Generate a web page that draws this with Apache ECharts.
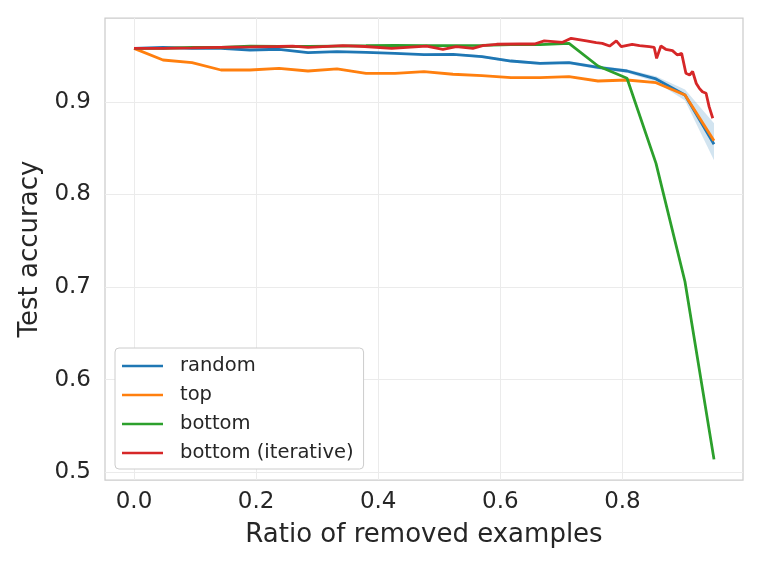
<!DOCTYPE html>
<html>
<head>
<meta charset="utf-8">
<script src="https://cdn.jsdelivr.net/npm/echarts@6/dist/echarts.min.js"></script>
<style>html,body{margin:0;padding:0;background:#fff}#c{width:761px;height:571px}</style>
</head>
<body>
<div id="c"></div>
<script>
// ---- data ----
const ratios = [0, 0.0475, 0.095, 0.1425, 0.19, 0.2375, 0.285, 0.3325, 0.38, 0.4275, 0.475,
  0.5225, 0.57, 0.6175, 0.665, 0.7125, 0.76, 0.8075, 0.855, 0.9025, 0.95];
const randomMean = [0.958, 0.9591, 0.958, 0.958, 0.9562, 0.957, 0.9533, 0.9544, 0.9537, 0.9526, 0.9512,
  0.9515, 0.949, 0.9443, 0.9418, 0.9425, 0.9375, 0.9335, 0.9249, 0.9076, 0.8543];
const randomLow = [0.958, 0.9583, 0.9572, 0.9572, 0.9554, 0.9562, 0.9525, 0.9536, 0.9529, 0.9518, 0.9504,
  0.9505, 0.9475, 0.9428, 0.9403, 0.941, 0.9355, 0.9315, 0.9215, 0.9016, 0.837];
const randomHigh = [0.958, 0.9599, 0.9588, 0.9588, 0.957, 0.9578, 0.9541, 0.9552, 0.9545, 0.9534, 0.952,
  0.9525, 0.9505, 0.9458, 0.9433, 0.944, 0.9395, 0.9355, 0.9279, 0.9136, 0.877];
const topVals = [0.958, 0.9454, 0.9425, 0.9346, 0.9346, 0.9364, 0.9335, 0.9357, 0.931, 0.931, 0.9328,
  0.930, 0.9285, 0.9263, 0.9263, 0.9274, 0.9227, 0.9238, 0.9209, 0.9076, 0.858];
const bottomVals = [0.958, 0.958, 0.959, 0.959, 0.9605, 0.960, 0.960, 0.9605, 0.9608, 0.9612, 0.961,
  0.961, 0.9612, 0.962, 0.962, 0.9634, 0.9389, 0.9256, 0.8337, 0.7057, 0.5137];
const iterX = [0, 0.047, 0.095, 0.141, 0.19, 0.237, 0.26, 0.285, 0.342, 0.378, 0.422, 0.479, 0.506,
  0.528, 0.555, 0.571, 0.594, 0.631, 0.656, 0.672, 0.702, 0.716, 0.741, 0.757, 0.767, 0.779, 0.790,
  0.798, 0.816, 0.828, 0.844, 0.852, 0.856, 0.863, 0.871, 0.882, 0.890, 0.897, 0.904, 0.910, 0.915,
  0.921, 0.926, 0.931, 0.937, 0.942, 0.948];
const iterY = [0.958, 0.958, 0.9585, 0.9591, 0.9595, 0.960, 0.9605, 0.959, 0.961, 0.960, 0.958, 0.9605, 0.957,
  0.9598, 0.958, 0.961, 0.9624, 0.9627, 0.9627, 0.966, 0.9645, 0.9688, 0.966, 0.9641, 0.9634, 0.9605, 0.966,
  0.9598, 0.9624, 0.9609, 0.9598, 0.9591, 0.9472, 0.9605, 0.957, 0.9555, 0.9508, 0.9526, 0.931, 0.9292, 0.933,
  0.920, 0.9148, 0.9111, 0.9094, 0.895, 0.8824];
const xTicks = [0, 0.2, 0.4, 0.6, 0.8];
const yTicks = [0.5, 0.6, 0.7, 0.8, 0.9];
const names = ['random', 'top', 'bottom', 'bottom (iterative)'];
const colors = ['#1f77b4', '#ff7f0e', '#2ca02c', '#d62728'];

const pairs = (xs, ys) => xs.map((x, i) => [x, ys[i]]);
const FONT = 'DejaVu Sans';
const TXT = '#262626';

const chart = echarts.init(document.getElementById('c'), null, {renderer: 'canvas'});
chart.setOption({
  animation: false,
  backgroundColor: '#ffffff',
  color: colors,
  grid: {left: 105, top: 18, width: 638, height: 462, show: true, borderColor: '#cccccc', borderWidth: 1.25, backgroundColor: 'transparent'},
  xAxis: {
    type: 'value', min: -0.0475, max: 0.9975,
    name: 'Ratio of removed examples', nameLocation: 'middle', nameGap: 42,
    nameTextStyle: {fontFamily: FONT, fontSize: 26, color: TXT},
    axisLine: {show: false},
    axisTick: {show: false, customValues: xTicks},
    axisLabel: {customValues: xTicks, formatter: v => v.toFixed(1), fontFamily: FONT, fontSize: 23, color: TXT, margin: 11},
    splitLine: {show: true, lineStyle: {color: '#ebebeb', width: 1}}
  },
  yAxis: {
    type: 'value', min: 0.4914, max: 0.9908,
    name: 'Test accuracy', nameLocation: 'middle', nameGap: 58,
    nameTextStyle: {fontFamily: FONT, fontSize: 26, color: TXT},
    axisLine: {show: false},
    axisTick: {show: false, customValues: yTicks},
    axisLabel: {customValues: yTicks, formatter: v => v.toFixed(1), fontFamily: FONT, fontSize: 23, color: TXT, margin: 14},
    splitLine: {show: true, lineStyle: {color: '#ebebeb', width: 1}}
  },
  legend: {
    left: 115, top: 348, orient: 'vertical',
    data: names,
    icon: 'rect', itemWidth: 41, itemHeight: 2.5, itemGap: 9,
    padding: [8, 10, 6, 7],
    backgroundColor: '#ffffff', borderColor: '#cccccc', borderWidth: 1, borderRadius: 4,
    textStyle: {fontFamily: FONT, fontSize: 19.5, lineHeight: 20, color: TXT, padding: [0, 0, 0, 12]}
  },
  series: [
    {type: 'custom', name: 'band', silent: true, z: 1, clip: true,
      data: ratios.map((x, i) => [x, randomLow[i], randomHigh[i]]),
      renderItem: (params, api) => {
        if (params.dataIndex !== 0) return null;
        const pts = [];
        for (let i = 0; i < ratios.length; i++) pts.push(api.coord([ratios[i], randomHigh[i]]));
        for (let i = ratios.length - 1; i >= 0; i--) pts.push(api.coord([ratios[i], randomLow[i]]));
        return {type: 'polygon', shape: {points: pts}, style: {fill: 'rgba(31,119,180,0.2)', stroke: null}};
      }
    },
    {type: 'line', name: names[0], data: pairs(ratios, randomMean), symbol: 'none', lineStyle: {width: 2.8, color: colors[0]}, itemStyle: {color: colors[0]}, z: 3},
    {type: 'line', name: names[1], data: pairs(ratios, topVals), symbol: 'none', lineStyle: {width: 2.8, color: colors[1]}, itemStyle: {color: colors[1]}, z: 3},
    {type: 'line', name: names[2], data: pairs(ratios, bottomVals), symbol: 'none', lineStyle: {width: 2.8, color: colors[2]}, itemStyle: {color: colors[2]}, z: 3},
    {type: 'line', name: names[3], data: pairs(iterX, iterY), symbol: 'none', lineStyle: {width: 2.8, color: colors[3]}, itemStyle: {color: colors[3]}, z: 3}
  ]
});
</script>
</body>
</html>
